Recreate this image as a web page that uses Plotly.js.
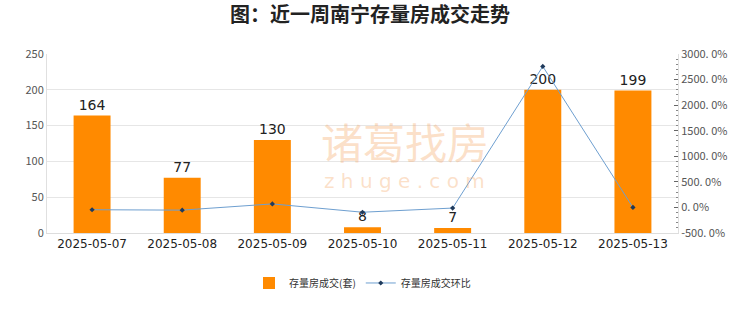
<!DOCTYPE html>
<html><head><meta charset="utf-8">
<script src="https://cdn.plot.ly/plotly-3.0.1.min.js"></script>
<style>body{margin:0;background:#fff}#c{width:740px;height:312px}</style>
</head><body><div id="c"></div>
<script>
const dates = ['2025-05-07','2025-05-08','2025-05-09','2025-05-10','2025-05-11','2025-05-12','2025-05-13'];
const volume = [164, 77, 130, 8, 7, 200, 199];
const ratio = [-45, -53.0, 68.8, -93.8, -12.5, 2757.1, -0.5];
const rightTickVals = [-500, 0, 500, 1000, 1500, 2000, 2500, 3000];
const rightTickText = ['-500. 0%','0. 0%','500. 0%','1000. 0%','1500. 0%','2000. 0%','2500. 0%','3000. 0%'];
const leftTickVals = [0, 50, 100, 150, 200, 250];

const font = '"Noto Sans CJK SC", "Noto Sans", sans-serif';
const data = [
  {type:'bar', x:dates, y:volume, name:'存量房成交(套)', marker:{color:'#FF8A00'}, width:0.41,
   text:volume.map(String), textposition:'outside', textfont:{size:14, color:'#222', family:'"DejaVu Sans", sans-serif'},
   cliponaxis:false, yaxis:'y'},
  {type:'scatter', mode:'lines+markers', x:dates, y:ratio, name:'存量房成交环比', yaxis:'y2',
   line:{color:'#6e9fd0', width:1}, marker:{color:'#1f3a5c', size:4, symbol:'diamond'}}
];
const layout = {
  width:740, height:312, margin:{l:47, r:62, t:54, b:79, autoexpand:false},
  paper_bgcolor:'#fff', plot_bgcolor:'#fff',
  title:{text:'<b>图：近一周南宁存量房成交走势</b>', x:0.5, xanchor:'center', yref:'container', y:0.952, yanchor:'middle',
    font:{family:font, size:20, color:'#222'}},
  showlegend:true,
  legend:{orientation:'h', x:0.5, xanchor:'center', yref:'container', y:0.093, yanchor:'middle', itemwidth:30,
    font:{family:font, size:10, color:'#333'}},
  xaxis:{type:'category', showgrid:false, showline:true, linecolor:'#ddd', ticks:'', tickfont:{family:'"DejaVu Sans", sans-serif', size:12, color:'#222'}},
  yaxis:{range:[0,250], tickvals:leftTickVals, showgrid:true, gridcolor:'#e6e6e6', showline:true, linecolor:'#e0e0e0', zeroline:false,
    tickfont:{family:font, size:11, color:'#555'}, ticks:''},
  yaxis2:{overlaying:'y', side:'right', range:[-500,3000], tickvals:rightTickVals, ticktext:rightTickText, showgrid:false, zeroline:false,
    showline:true, linecolor:'#e0e0e0', ticks:'inside', ticklen:4, tickcolor:'#666',
    minor:{ticks:'inside', ticklen:2, tickcolor:'#888', dtick:100},
    tickfont:{family:font, size:11, color:'#555'}},
  annotations:[
    {xref:'paper', yref:'paper', x:0.567, y:0.515, xanchor:'center', yanchor:'middle', text:'诸葛找房', showarrow:false,
      font:{family:font, size:42, color:'rgba(245,165,100,0.35)'}},
    {xref:'paper', yref:'paper', x:0.567, y:0.29, xanchor:'center', yanchor:'middle', text:'z h u g e . c o m', showarrow:false,
      font:{family:'"DejaVu Sans", sans-serif', size:20, color:'rgba(245,165,100,0.35)'}}
  ]
};
Plotly.newPlot('c', data, layout, {displayModeBar:false, staticPlot:true});
</script></body></html>
